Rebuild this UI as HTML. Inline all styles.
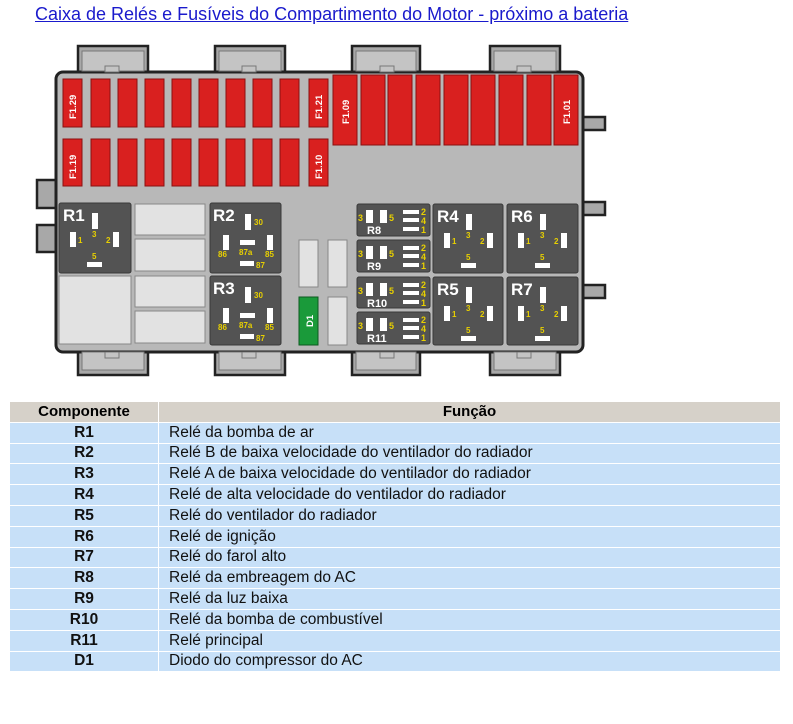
<!DOCTYPE html>
<html><head><meta charset="utf-8"><style>
body{margin:0;background:#fff;width:793px;height:724px;overflow:hidden;font-family:"Liberation Sans",Arial,sans-serif}
.t{position:absolute;left:35px;top:4px;font-size:18px;color:#1a1acc;text-decoration:underline;white-space:nowrap}
table{position:absolute;left:10px;top:402px;width:770px;border-collapse:collapse;font-size:15.5px}
td,th{height:19.8px;padding:0;border-bottom:1px solid #fff;line-height:18px}
th{background:#d6d1c9;font-weight:bold;color:#000;font-size:15px}
td{background:#c7e0f8;color:#111}
td.c{text-align:center;font-weight:bold;width:148px;border-right:1px solid #fff}
td.f{padding-left:10px}
svg{position:absolute;left:0;top:0}
</style></head><body>
<div class="t">Caixa de Relés e Fusíveis do Compartimento do Motor - próximo a bateria</div>
<svg width="793" height="400" font-family="Liberation Sans,Arial,sans-serif">
<g fill="#a8a8a8" stroke="#222" stroke-width="2.5">
<rect x="78" y="46" width="70" height="30"/><rect x="215" y="46" width="70" height="30"/><rect x="352" y="46" width="68" height="30"/><rect x="490" y="46" width="70" height="30"/>
<rect x="78" y="348" width="70" height="27"/><rect x="215" y="348" width="70" height="27"/><rect x="352" y="348" width="68" height="27"/><rect x="490" y="348" width="70" height="27"/>
<rect x="37" y="180" width="22" height="28"/><rect x="37" y="225" width="22" height="27"/>
<rect x="580" y="117" width="25" height="13"/><rect x="580" y="202" width="25" height="13"/><rect x="580" y="285" width="25" height="13"/>
<rect x="56" y="72" width="527" height="280" rx="7" fill="#b8b8b8" stroke-width="3"/>
</g>
<g fill="#c4c4c4" stroke="#777" stroke-width="1">
<rect x="82" y="51" width="62" height="20"/><rect x="219" y="51" width="62" height="20"/><rect x="356" y="51" width="60" height="20"/><rect x="494" y="51" width="62" height="20"/>
<rect x="82" y="352" width="62" height="18"/><rect x="219" y="352" width="62" height="18"/><rect x="356" y="352" width="60" height="18"/><rect x="494" y="352" width="62" height="18"/>
<rect x="105" y="66" width="14" height="6"/><rect x="242" y="66" width="14" height="6"/><rect x="380" y="66" width="14" height="6"/><rect x="517" y="66" width="14" height="6"/>
<rect x="105" y="352" width="14" height="6"/><rect x="242" y="352" width="14" height="6"/><rect x="380" y="352" width="14" height="6"/><rect x="517" y="352" width="14" height="6"/>
</g>
<g fill="#d9201f" stroke="#8a1010" stroke-width="1">
<rect x="63" y="79" width="19" height="48"/><rect x="91" y="79" width="19" height="48"/><rect x="118" y="79" width="19" height="48"/><rect x="145" y="79" width="19" height="48"/><rect x="172" y="79" width="19" height="48"/><rect x="199" y="79" width="19" height="48"/><rect x="226" y="79" width="19" height="48"/><rect x="253" y="79" width="19" height="48"/><rect x="280" y="79" width="19" height="48"/><rect x="309" y="79" width="19" height="48"/>
<rect x="63" y="139" width="19" height="47"/><rect x="91" y="139" width="19" height="47"/><rect x="118" y="139" width="19" height="47"/><rect x="145" y="139" width="19" height="47"/><rect x="172" y="139" width="19" height="47"/><rect x="199" y="139" width="19" height="47"/><rect x="226" y="139" width="19" height="47"/><rect x="253" y="139" width="19" height="47"/><rect x="280" y="139" width="19" height="47"/><rect x="309" y="139" width="19" height="47"/>
<rect x="333" y="75" width="24" height="70"/><rect x="361" y="75" width="24" height="70"/><rect x="388" y="75" width="24" height="70"/><rect x="416" y="75" width="24" height="70"/><rect x="444" y="75" width="24" height="70"/><rect x="471" y="75" width="24" height="70"/><rect x="499" y="75" width="24" height="70"/><rect x="527" y="75" width="24" height="70"/><rect x="554" y="75" width="24" height="70"/>
</g>
<g fill="#fff" font-size="9.5" font-weight="bold">
<text transform="translate(76,119) rotate(-90)">F1.29</text>
<text transform="translate(76,179) rotate(-90)">F1.19</text>
<text transform="translate(322,119) rotate(-90)">F1.21</text>
<text transform="translate(322,179) rotate(-90)">F1.10</text>
<text transform="translate(349,124) rotate(-90)">F1.09</text>
<text transform="translate(570,124) rotate(-90)">F1.01</text>
</g>
<g fill="#e2e2e2" stroke="#888" stroke-width="1">
<rect x="135" y="204" width="70" height="31"/><rect x="135" y="239" width="70" height="32"/><rect x="135" y="276" width="70" height="31"/><rect x="135" y="311" width="70" height="32"/>
<rect x="59" y="276" width="72" height="68"/>
<rect x="299" y="240" width="19" height="47"/><rect x="328" y="240" width="19" height="47"/><rect x="328" y="297" width="19" height="48"/>
</g>
<rect x="299" y="297" width="19" height="48" fill="#1a9a3a" stroke="#0c5a20"/>
<text transform="translate(313,327) rotate(-90)" fill="#fff" font-size="9.5" font-weight="bold">D1</text>
<g fill="#535353" stroke="#3a3a3a">
<rect x="59" y="203" width="72" height="70" rx="2"/><rect x="210" y="203" width="71" height="70" rx="2"/><rect x="210" y="276" width="71" height="69" rx="2"/>
<rect x="433" y="204" width="70" height="69" rx="2"/><rect x="507" y="204" width="71" height="69" rx="2"/><rect x="433" y="277" width="70" height="68" rx="2"/><rect x="507" y="277" width="71" height="68" rx="2"/>
<rect x="357" y="204" width="73" height="32" rx="2"/><rect x="357" y="240" width="73" height="32" rx="2"/><rect x="357" y="277" width="73" height="31" rx="2"/><rect x="357" y="312" width="73" height="32" rx="2"/>
</g>
<g transform="translate(59,203)"><text x="4" y="18" fill="#fff" font-size="17" font-weight="bold">R1</text><g fill="#fff"><rect x="33" y="10" width="6" height="16"/><rect x="11" y="29" width="6" height="15"/><rect x="54" y="29" width="6" height="15"/><rect x="28" y="59" width="15" height="5"/></g><g fill="#e8d000" font-size="8" font-weight="bold"><text x="19" y="40">1</text><text x="33" y="34">3</text><text x="47" y="40">2</text><text x="33" y="56">5</text></g></g>
<g transform="translate(433,204)"><text x="4" y="18" fill="#fff" font-size="17" font-weight="bold">R4</text><g fill="#fff"><rect x="33" y="10" width="6" height="16"/><rect x="11" y="29" width="6" height="15"/><rect x="54" y="29" width="6" height="15"/><rect x="28" y="59" width="15" height="5"/></g><g fill="#e8d000" font-size="8" font-weight="bold"><text x="19" y="40">1</text><text x="33" y="34">3</text><text x="47" y="40">2</text><text x="33" y="56">5</text></g></g>
<g transform="translate(507,204)"><text x="4" y="18" fill="#fff" font-size="17" font-weight="bold">R6</text><g fill="#fff"><rect x="33" y="10" width="6" height="16"/><rect x="11" y="29" width="6" height="15"/><rect x="54" y="29" width="6" height="15"/><rect x="28" y="59" width="15" height="5"/></g><g fill="#e8d000" font-size="8" font-weight="bold"><text x="19" y="40">1</text><text x="33" y="34">3</text><text x="47" y="40">2</text><text x="33" y="56">5</text></g></g>
<g transform="translate(433,277)"><text x="4" y="18" fill="#fff" font-size="17" font-weight="bold">R5</text><g fill="#fff"><rect x="33" y="10" width="6" height="16"/><rect x="11" y="29" width="6" height="15"/><rect x="54" y="29" width="6" height="15"/><rect x="28" y="59" width="15" height="5"/></g><g fill="#e8d000" font-size="8" font-weight="bold"><text x="19" y="40">1</text><text x="33" y="34">3</text><text x="47" y="40">2</text><text x="33" y="56">5</text></g></g>
<g transform="translate(507,277)"><text x="4" y="18" fill="#fff" font-size="17" font-weight="bold">R7</text><g fill="#fff"><rect x="33" y="10" width="6" height="16"/><rect x="11" y="29" width="6" height="15"/><rect x="54" y="29" width="6" height="15"/><rect x="28" y="59" width="15" height="5"/></g><g fill="#e8d000" font-size="8" font-weight="bold"><text x="19" y="40">1</text><text x="33" y="34">3</text><text x="47" y="40">2</text><text x="33" y="56">5</text></g></g>
<g transform="translate(210,203)"><text x="3" y="18" fill="#fff" font-size="17" font-weight="bold">R2</text><g fill="#fff"><rect x="35" y="11" width="6" height="16"/><rect x="13" y="32" width="6" height="15"/><rect x="57" y="32" width="6" height="15"/><rect x="30" y="37" width="15" height="5"/><rect x="30" y="58" width="14" height="5"/></g><g fill="#e8d000" font-size="8" font-weight="bold"><text x="44" y="22">30</text><text x="29" y="52">87a</text><text x="8" y="54">86</text><text x="55" y="54">85</text><text x="46" y="65">87</text></g></g>
<g transform="translate(210,276)"><text x="3" y="18" fill="#fff" font-size="17" font-weight="bold">R3</text><g fill="#fff"><rect x="35" y="11" width="6" height="16"/><rect x="13" y="32" width="6" height="15"/><rect x="57" y="32" width="6" height="15"/><rect x="30" y="37" width="15" height="5"/><rect x="30" y="58" width="14" height="5"/></g><g fill="#e8d000" font-size="8" font-weight="bold"><text x="44" y="22">30</text><text x="29" y="52">87a</text><text x="8" y="54">86</text><text x="55" y="54">85</text><text x="46" y="65">87</text></g></g>
<g transform="translate(357,204)"><g fill="#fff"><rect x="9" y="6" width="7" height="13"/><rect x="23" y="6" width="7" height="13"/><rect x="46" y="6" width="16" height="4"/><rect x="46" y="14" width="16" height="4"/><rect x="46" y="23" width="16" height="4"/></g><g fill="#e8d000" font-size="9" font-weight="bold"><text x="1" y="17">3</text><text x="32" y="17">5</text><text x="64" y="11">2</text><text x="64" y="20">4</text><text x="64" y="29">1</text></g><text x="10" y="30" fill="#fff" font-size="11" font-weight="bold">R8</text></g>
<g transform="translate(357,240)"><g fill="#fff"><rect x="9" y="6" width="7" height="13"/><rect x="23" y="6" width="7" height="13"/><rect x="46" y="6" width="16" height="4"/><rect x="46" y="14" width="16" height="4"/><rect x="46" y="23" width="16" height="4"/></g><g fill="#e8d000" font-size="9" font-weight="bold"><text x="1" y="17">3</text><text x="32" y="17">5</text><text x="64" y="11">2</text><text x="64" y="20">4</text><text x="64" y="29">1</text></g><text x="10" y="30" fill="#fff" font-size="11" font-weight="bold">R9</text></g>
<g transform="translate(357,277)"><g fill="#fff"><rect x="9" y="6" width="7" height="13"/><rect x="23" y="6" width="7" height="13"/><rect x="46" y="6" width="16" height="4"/><rect x="46" y="14" width="16" height="4"/><rect x="46" y="23" width="16" height="4"/></g><g fill="#e8d000" font-size="9" font-weight="bold"><text x="1" y="17">3</text><text x="32" y="17">5</text><text x="64" y="11">2</text><text x="64" y="20">4</text><text x="64" y="29">1</text></g><text x="10" y="30" fill="#fff" font-size="11" font-weight="bold">R10</text></g>
<g transform="translate(357,312)"><g fill="#fff"><rect x="9" y="6" width="7" height="13"/><rect x="23" y="6" width="7" height="13"/><rect x="46" y="6" width="16" height="4"/><rect x="46" y="14" width="16" height="4"/><rect x="46" y="23" width="16" height="4"/></g><g fill="#e8d000" font-size="9" font-weight="bold"><text x="1" y="17">3</text><text x="32" y="17">5</text><text x="64" y="11">2</text><text x="64" y="20">4</text><text x="64" y="29">1</text></g><text x="10" y="30" fill="#fff" font-size="11" font-weight="bold">R11</text></g>
</svg>
<table>
<tr><th style="width:148px;border-right:1px solid #fff">Componente</th><th>Função</th></tr>
<tr><td class="c">R1</td><td class="f">Relé da bomba de ar</td></tr>
<tr><td class="c">R2</td><td class="f">Relé B de baixa velocidade do ventilador do radiador</td></tr>
<tr><td class="c">R3</td><td class="f">Relé A de baixa velocidade do ventilador do radiador</td></tr>
<tr><td class="c">R4</td><td class="f">Relé de alta velocidade do ventilador do radiador</td></tr>
<tr><td class="c">R5</td><td class="f">Relé do ventilador do radiador</td></tr>
<tr><td class="c">R6</td><td class="f">Relé de ignição</td></tr>
<tr><td class="c">R7</td><td class="f">Relé do farol alto</td></tr>
<tr><td class="c">R8</td><td class="f">Relé da embreagem do AC</td></tr>
<tr><td class="c">R9</td><td class="f">Relé da luz baixa</td></tr>
<tr><td class="c">R10</td><td class="f">Relé da bomba de combustível</td></tr>
<tr><td class="c">R11</td><td class="f">Relé principal</td></tr>
<tr><td class="c">D1</td><td class="f">Diodo do compressor do AC</td></tr>
</table>
</body></html>
